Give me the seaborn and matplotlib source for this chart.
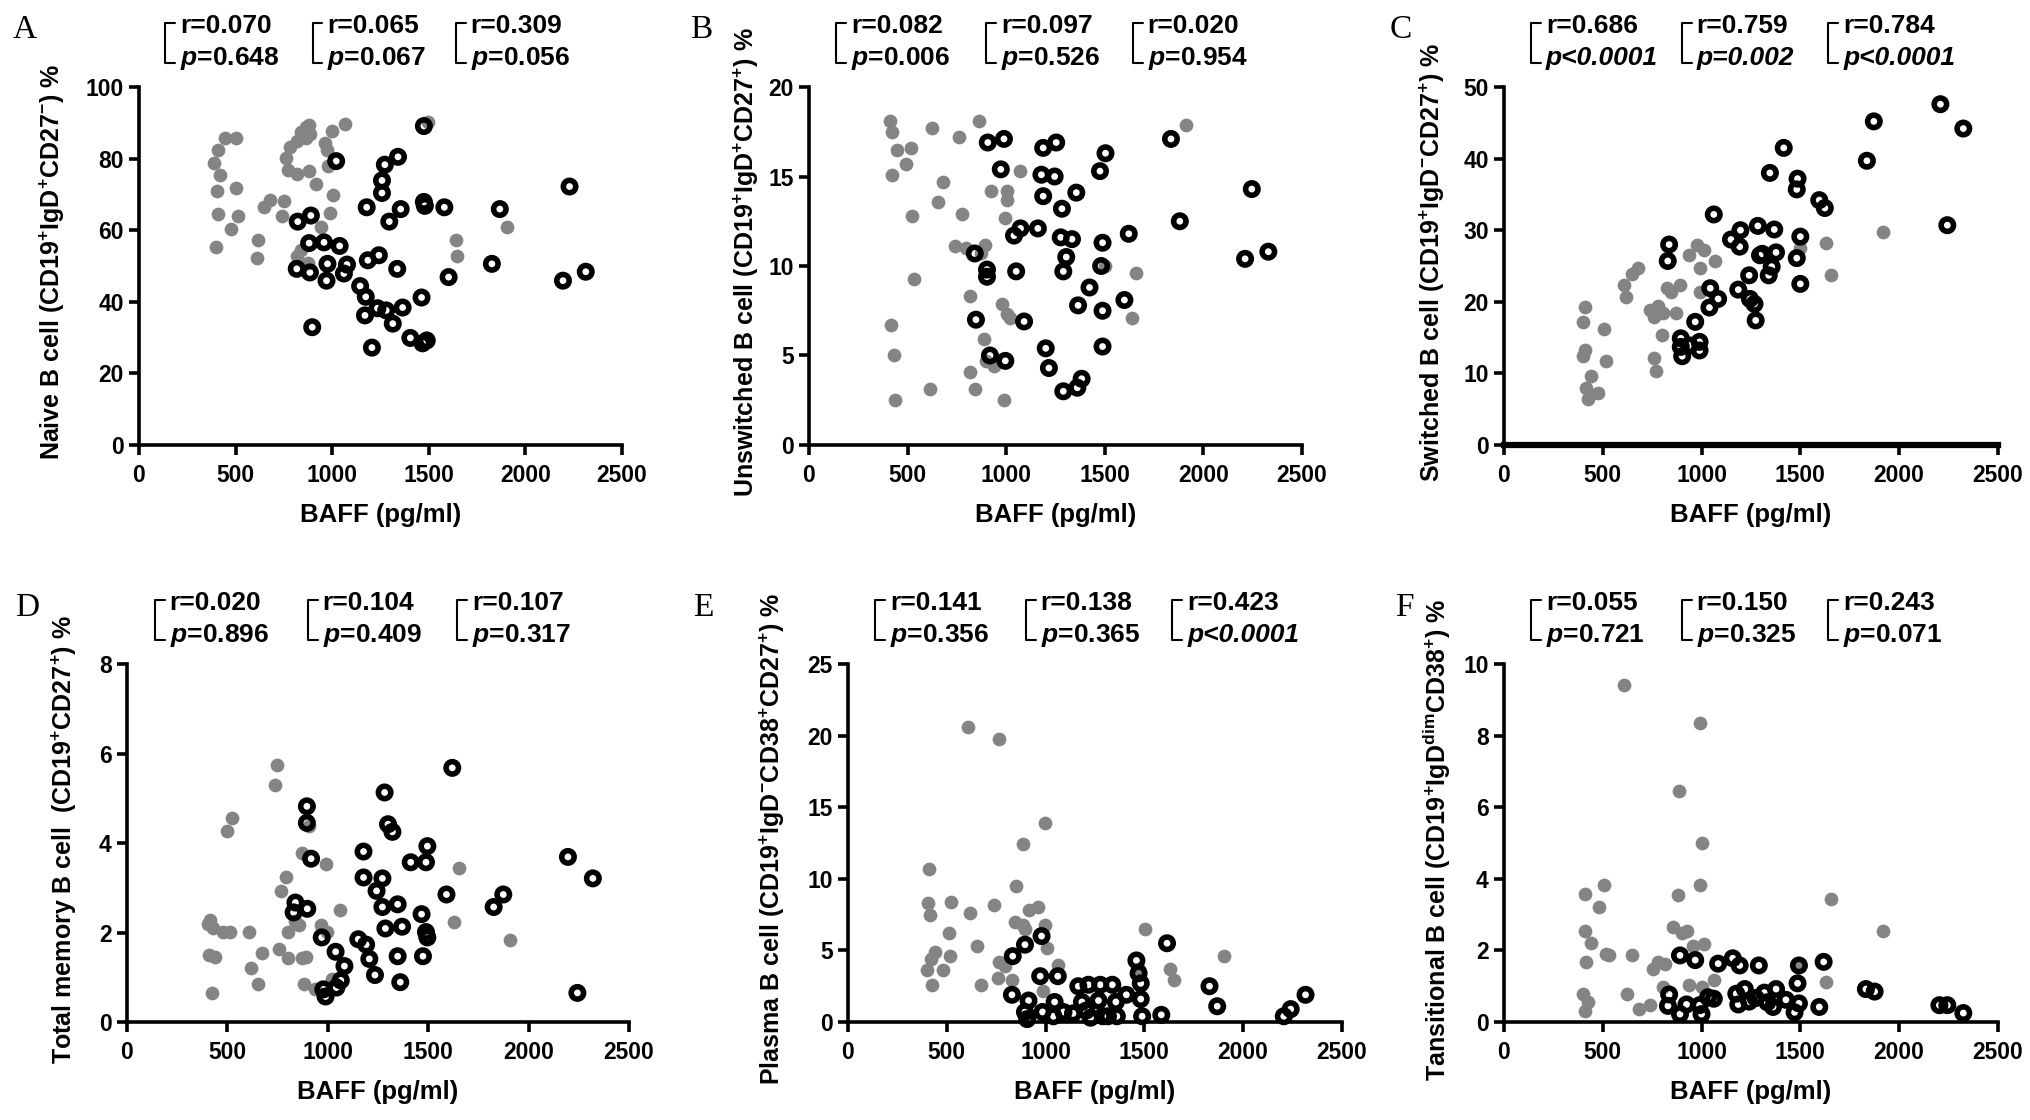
import numpy as np
import matplotlib
matplotlib.use("Agg")
import matplotlib.pyplot as plt
import seaborn as sns

# ---- data: (BAFF pg/ml, % cells) ----
# grey filled dots and black open circles, one pair of arrays per panel

a_filled = np.array([
    (388, 78.8), (411, 82.5), (445, 85.8), (422, 75.3), (404, 70.9), (411, 64.4), (400, 55.4),
    (501, 85.8), (501, 71.9), (512, 63.9), (479, 60.4), (614, 57.4), (610, 52.2), (648, 66.4),
    (677, 68.4), (750, 68.2), (739, 63.9), (761, 80.3), (784, 83.3), (817, 84.8), (840, 87.3),
    (863, 88.8), (881, 89.5), (885, 86.8), (772, 76.8), (817, 75.8), (881, 76.5), (919, 72.9),
    (863, 85.8), (964, 84.3), (971, 82.3), (998, 87.8), (1066, 89.8), (980, 77.8), (1003, 69.9),
    (987, 64.9), (942, 60.9), (840, 54.4), (817, 52.9), (874, 50.9), (1642, 57.4), (1648, 52.9),
    (1906, 60.9), (1495, 90.3)])
a_open = np.array([
    (1021, 79.3), (822, 62.4), (890, 64.1), (881, 56.4), (958, 56.6), (1039, 55.6), (817, 49.2),
    (885, 48.2), (976, 50.6), (971, 45.9), (1061, 47.9), (1077, 50.4), (897, 32.9), (1179, 66.4),
    (1185, 51.6), (1242, 53.0), (1145, 44.4), (1174, 41.4), (1170, 36.2), (1235, 38.2),
    (1280, 37.6), (1314, 33.9), (1365, 38.4), (1206, 27.2), (1405, 29.9), (1468, 28.4),
    (1490, 29.2), (1463, 41.2), (1337, 49.2), (1258, 70.4), (1258, 73.9), (1273, 78.3),
    (1341, 80.5), (1296, 62.4), (1355, 65.9), (1475, 67.9), (1480, 66.8), (1475, 89.1),
    (1581, 66.4), (1603, 46.9), (1868, 65.9), (1827, 50.6), (2229, 72.2), (2195, 45.9),
    (2313, 48.4)])

b_filled = np.array([
    (409, 18.1), (420, 17.5), (447, 16.5), (520, 16.6), (491, 15.7), (420, 15.1), (624, 17.7),
    (763, 17.2), (863, 18.1), (681, 14.7), (657, 13.6), (524, 12.8), (774, 12.9), (922, 14.2),
    (1002, 14.2), (1007, 13.7), (996, 12.7), (1069, 15.3), (741, 11.1), (796, 11.0), (892, 11.2),
    (874, 10.7), (535, 9.3), (414, 6.7), (431, 5.0), (438, 2.5), (615, 3.1), (819, 8.3),
    (980, 7.9), (1002, 7.3), (1018, 7.1), (889, 5.9), (896, 4.7), (940, 4.4), (819, 4.1),
    (841, 3.1), (991, 2.5), (1659, 9.6), (1637, 7.1), (1914, 17.9), (1504, 10.0)])
b_open = np.array([
    (907, 16.9), (989, 17.1), (973, 15.4), (841, 10.7), (903, 9.8), (903, 9.4), (847, 7.0),
    (918, 5.0), (996, 4.7), (1040, 11.7), (1073, 12.1), (1051, 9.7), (1091, 6.9), (1188, 16.6),
    (1254, 16.9), (1179, 15.1), (1246, 15.0), (1188, 13.9), (1161, 12.1), (1283, 13.2),
    (1356, 14.1), (1277, 11.6), (1334, 11.5), (1305, 10.5), (1290, 9.7), (1201, 5.4),
    (1217, 4.3), (1290, 3.0), (1361, 3.2), (1383, 3.7), (1423, 8.8), (1365, 7.8), (1482, 10.0),
    (1489, 11.3), (1504, 16.3), (1476, 15.3), (1489, 7.5), (1489, 5.5), (1600, 8.1),
    (1622, 11.8), (1836, 17.1), (1881, 12.5), (2246, 14.3), (2212, 10.4), (2330, 10.8)])

c_filled = np.array([
    (409, 19.3), (398, 17.2), (409, 13.2), (398, 12.4), (442, 9.7), (414, 7.9), (425, 6.4),
    (475, 7.2), (508, 16.2), (519, 11.7), (606, 22.4), (617, 20.7), (650, 23.9), (678, 24.7),
    (738, 18.9), (760, 17.9), (799, 15.3), (760, 12.2), (771, 10.3), (782, 19.4), (803, 18.4),
    (825, 21.9), (847, 21.4), (891, 22.4), (873, 18.4), (935, 26.5), (978, 28.0), (990, 24.7),
    (1011, 27.2), (1066, 25.7), (990, 21.4), (1631, 28.2), (1653, 23.7), (1916, 29.7),
    (1500, 27.5)])
c_open = np.array([
    (836, 28.0), (829, 25.7), (895, 14.9), (902, 12.4), (895, 13.7), (939, 13.9), (990, 14.4),
    (990, 13.2), (968, 17.2), (1044, 21.9), (1040, 19.2), (1084, 20.4), (1062, 32.2),
    (1149, 28.7), (1197, 30.0), (1193, 27.7), (1186, 21.7), (1241, 23.7), (1245, 20.4),
    (1268, 19.7), (1274, 17.4), (1285, 30.6), (1307, 26.7), (1340, 23.7), (1355, 24.9),
    (1368, 30.1), (1377, 26.9), (1346, 38.0), (1416, 41.5), (1486, 37.2), (1482, 35.7),
    (1500, 29.1), (1482, 26.1), (1500, 22.5), (1596, 34.2), (1624, 33.1), (1837, 39.7),
    (1872, 45.2), (2209, 47.6), (2325, 44.2), (2244, 30.7), (1296, 26.5)])

d_filled = np.array([
    (746, 5.75), (735, 5.30), (522, 4.57), (500, 4.26), (413, 2.29), (430, 2.09), (402, 2.19),
    (409, 1.49), (439, 1.45), (424, 0.65), (478, 2.01), (511, 2.01), (609, 2.01), (620, 1.21),
    (652, 0.85), (674, 1.55), (757, 1.63), (793, 3.23), (765, 2.93), (870, 3.78), (909, 4.37),
    (804, 2.01), (837, 2.25), (859, 2.17), (804, 1.44), (870, 1.44), (891, 1.45), (880, 0.85),
    (989, 3.53), (1061, 2.51), (967, 2.17), (996, 2.01), (935, 0.73), (1022, 0.97),
    (1652, 3.45), (1630, 2.24), (1909, 1.84), (1489, 2.01)])
d_open = np.array([
    (896, 4.82), (896, 4.45), (917, 3.65), (839, 2.67), (830, 2.45), (898, 2.53), (970, 1.89),
    (978, 0.73), (989, 0.57), (1043, 0.77), (1039, 1.57), (1065, 0.93), (1083, 1.25),
    (1178, 3.81), (1178, 3.23), (1152, 1.85), (1191, 1.73), (1207, 1.41), (1235, 1.05),
    (1283, 5.13), (1300, 4.42), (1322, 4.25), (1243, 2.93), (1272, 3.21), (1272, 2.57),
    (1287, 2.09), (1348, 2.63), (1370, 2.13), (1348, 1.47), (1361, 0.89), (1413, 3.57),
    (1496, 3.93), (1489, 3.57), (1467, 2.41), (1489, 2.01), (1496, 1.89), (1474, 1.47),
    (1591, 2.85), (1620, 5.68), (1826, 2.57), (1874, 2.85), (2196, 3.69), (2320, 3.21),
    (2243, 0.65)])

e_filled = np.array([
    (608, 20.6), (763, 19.8), (996, 13.9), (885, 12.4), (409, 10.7), (852, 9.5), (405, 8.3),
    (414, 7.5), (524, 8.4), (619, 7.6), (741, 8.2), (847, 7.0), (885, 6.8), (918, 7.8),
    (962, 8.0), (996, 6.8), (509, 6.2), (653, 5.3), (420, 4.4), (442, 4.9), (515, 4.6),
    (398, 3.6), (482, 3.6), (427, 2.6), (675, 2.6), (763, 4.2), (796, 3.9), (759, 3.1),
    (830, 2.9), (896, 6.5), (1007, 5.2), (1062, 4.0), (985, 2.2), (1504, 6.5), (1631, 3.7),
    (1648, 2.9), (1903, 4.6), (1471, 3.7)])
e_open = np.array([
    (834, 4.6), (896, 5.4), (980, 6.0), (830, 1.9), (914, 1.5), (896, 0.7), (907, 0.2),
    (973, 3.2), (1062, 3.2), (985, 0.7), (1046, 1.4), (1040, 0.4), (1091, 0.7), (1166, 2.5),
    (1184, 1.4), (1206, 0.8), (1217, 2.6), (1228, 0.3), (1268, 1.5), (1277, 2.6), (1290, 0.4),
    (1338, 2.6), (1356, 1.4), (1361, 0.4), (1409, 1.9), (1460, 4.3), (1471, 3.4), (1482, 2.7),
    (1482, 1.6), (1489, 0.4), (1586, 0.5), (1615, 5.5), (1830, 2.5), (1869, 1.1), (2206, 0.4),
    (2241, 0.9), (2316, 1.9), (1316, 0.4), (1139, 0.6)])

f_filled = np.array([
    (606, 9.42), (990, 8.36), (884, 6.45), (1000, 4.99), (992, 3.84), (880, 3.54), (409, 3.57),
    (508, 3.84), (479, 3.21), (409, 2.53), (442, 2.20), (414, 1.68), (514, 1.90), (530, 1.86),
    (650, 1.88), (398, 0.79), (409, 0.32), (427, 0.57), (622, 0.79), (685, 0.37), (755, 1.48),
    (782, 1.68), (814, 1.63), (858, 2.66), (902, 2.48), (924, 2.53), (957, 2.13), (1011, 2.18),
    (738, 0.47), (803, 0.97), (935, 1.03), (1000, 0.99), (1062, 1.16), (1653, 3.44),
    (1916, 2.53), (1631, 1.13), (1493, 1.58)])
f_open = np.array([
    (891, 1.86), (968, 1.73), (1084, 1.63), (1158, 1.78), (1193, 1.58), (1290, 1.58),
    (836, 0.77), (830, 0.45), (891, 0.22), (924, 0.49), (990, 0.47), (1000, 0.22), (1033, 0.69),
    (1062, 0.65), (1176, 0.79), (1186, 0.49), (1219, 0.92), (1241, 0.57), (1274, 0.67),
    (1318, 0.82), (1333, 0.55), (1362, 0.42), (1377, 0.92), (1427, 0.62), (1471, 0.27),
    (1486, 1.08), (1493, 0.52), (1596, 0.42), (1618, 1.68), (1832, 0.92), (1876, 0.85),
    (2204, 0.47), (2244, 0.47), (2325, 0.25), (1493, 1.58)])

# correlation statistics (r, p) printed above each panel
a_r = ["0.070", "0.065", "0.309"]; a_p = ["=0.648", "=0.067", "=0.056"]
b_r = ["0.082", "0.097", "0.020"]; b_p = ["=0.006", "=0.526", "=0.954"]
c_r = ["0.686", "0.759", "0.784"]; c_p = ["<0.0001", "=0.002", "<0.0001"]
d_r = ["0.020", "0.104", "0.107"]; d_p = ["=0.896", "=0.409", "=0.317"]
e_r = ["0.141", "0.138", "0.423"]; e_p = ["=0.356", "=0.365", "<0.0001"]
f_r = ["0.055", "0.150", "0.243"]; f_p = ["=0.721", "=0.325", "=0.071"]
# which p values are fully italic
c_p_ital = [True, True, True]
e_p_ital = [False, False, True]
plain = [False, False, False]

a_ylabel = r"Naive B cell (CD19$^{+}$IgD$^{+}$CD27$^{-}$) %"
b_ylabel = r"Unswitched B cell (CD19$^{+}$IgD$^{+}$CD27$^{+}$) %"
c_ylabel = r"Switched B cell (CD19$^{+}$IgD$^{-}$CD27$^{+}$) %"
d_ylabel = r"Total memory B cell  (CD19$^{+}$CD27$^{+}$) %"
e_ylabel = r"Plasma B cell (CD19$^{+}$IgD$^{-}$CD38$^{+}$CD27$^{+}$) %"
f_ylabel = r"Tansitional B cell (CD19$^{+}$IgD$^{dim}$CD38$^{+}$) %"

a_yticks = [0, 20, 40, 60, 80, 100]
b_yticks = [0, 5, 10, 15, 20]
c_yticks = [0, 10, 20, 30, 40, 50]
d_yticks = [0, 2, 4, 6, 8]
e_yticks = [0, 5, 10, 15, 20, 25]
f_yticks = [0, 2, 4, 6, 8, 10]
x_ticks = [0, 500, 1000, 1500, 2000, 2500]

# ---- style ----
sns.set_theme(style="ticks")
plt.rcParams['font.family'] = ['Liberation Sans', 'DejaVu Sans']
plt.rcParams['font.weight'] = 'bold'
plt.rcParams['axes.labelweight'] = 'bold'
plt.rcParams['mathtext.fontset'] = 'custom'
plt.rcParams['mathtext.rm'] = 'Liberation Sans:bold'
plt.rcParams['mathtext.it'] = 'Liberation Sans:italic:bold'
plt.rcParams['mathtext.bf'] = 'Liberation Sans:bold'
plt.rcParams['mathtext.default'] = 'regular'
for k in ['text.color', 'axes.labelcolor', 'xtick.color', 'ytick.color', 'axes.edgecolor']:
    plt.rcParams[k] = 'black'

GREY = '#848484'
BRACKET_X = [0.055, 0.36, 0.657]

panels = [
    ("A", a_filled, a_open, a_ylabel, a_yticks, a_r, a_p, plain,
     [0.0684, 0.6027, 0.2378, 0.3196], -0.149, (0.0064, 0.9665)),
    ("B", b_filled, b_open, b_ylabel, b_yticks, b_r, b_p, plain,
     [0.3983, 0.6027, 0.2427, 0.3196], -0.097, (0.340, 0.9665)),
    ("C", c_filled, c_open, c_ylabel, c_yticks, c_r, c_p, c_p_ital,
     [0.7405, 0.6027, 0.2432, 0.3196], -0.116, (0.6844, 0.9665)),
    ("D", d_filled, d_open, d_ylabel, d_yticks, d_r, d_p, plain,
     [0.0625, 0.0875, 0.2472, 0.3196], -0.096, (0.0074, 0.450)),
    ("E", e_filled, e_open, e_ylabel, e_yticks, e_r, e_p, e_p_ital,
     [0.4175, 0.0875, 0.2432, 0.3196], -0.124, (0.341, 0.450)),
    ("F", f_filled, f_open, f_ylabel, f_yticks, f_r, f_p, plain,
     [0.7405, 0.0875, 0.2432, 0.3196], -0.103, (0.687, 0.450)),
]

fig = plt.figure(figsize=(20.31, 11.2), dpi=100)

for letter, filled, opened, ylabel, yticks, rs, ps, ital, rect, lab_x, let_pos in panels:
    ax = fig.add_axes(rect)
    sns.scatterplot(x=filled[:, 0], y=filled[:, 1], ax=ax, color=GREY, s=98,
                    linewidth=0, zorder=3, clip_on=False)
    sns.scatterplot(x=opened[:, 0], y=opened[:, 1], ax=ax, color='black',
                    facecolor='none', edgecolor='black', s=80, linewidth=4,
                    zorder=4, clip_on=False)

    ax.set_xlim(0, 2500)
    ax.set_ylim(0, yticks[-1])
    ax.set_xticks(x_ticks)
    ax.set_yticks(yticks)
    sns.despine(ax=ax)
    ax.spines['left'].set_linewidth(2.6)
    ax.spines['bottom'].set_linewidth(4.5 if letter == "C" else 2.6)
    ax.tick_params(axis='both', length=7, width=2.6, labelsize=16.5)
    ax.tick_params(axis='x', pad=7)
    ax.tick_params(axis='y', pad=4)

    ax.set_xlabel("BAFF (pg/ml)", fontsize=18.5, labelpad=11)
    ax.set_ylabel(ylabel, fontsize=18)
    ax.yaxis.set_label_coords(lab_x, 0.51)

    # r / p annotations with bracket
    for bx, r, p, it in zip(BRACKET_X, rs, ps, ital):
        ax.plot([bx + 0.02, bx, bx, bx + 0.02], [1.18, 1.18, 1.066, 1.066],
                transform=ax.transAxes, color='black', lw=1.5, clip_on=False)
        ax.text(bx + 0.03, 1.17, "r=" + r, transform=ax.transAxes,
                ha='left', va='center', fontsize=19)
        if it:
            ax.text(bx + 0.03, 1.08, "p" + p, transform=ax.transAxes,
                    ha='left', va='center', fontsize=19, style='italic')
        else:
            ax.text(bx + 0.03, 1.08, r"$\mathit{p}$" + p, transform=ax.transAxes,
                    ha='left', va='center', fontsize=19)

    fig.text(let_pos[0], let_pos[1], letter, fontsize=24, fontweight='normal',
             family=['Liberation Serif', 'DejaVu Serif'], va='baseline', ha='left')

fig.savefig("out.png", dpi=100, facecolor='white')
